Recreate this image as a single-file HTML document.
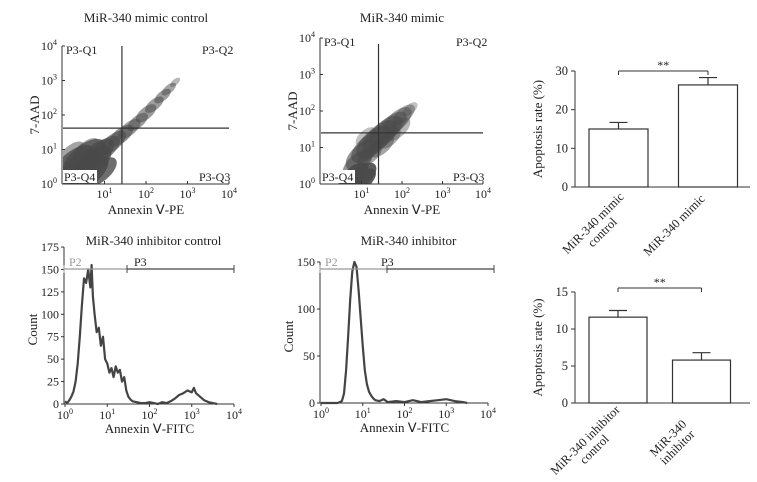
<!DOCTYPE html>
<html><head><meta charset="utf-8"><style>
html,body{margin:0;padding:0;background:#fff}
svg{display:block;font-family:"Liberation Serif",serif}
</style></head><body>
<svg id="fig" width="757" height="482" viewBox="0 0 757 482" xmlns="http://www.w3.org/2000/svg"></svg>
<script>
// ---------- data ----------
const s1CloudX=[0.3,0.6,0.9,0.25,0.5,0.8,1.0,1.2,1.4,1.6,1.8,2.0,2.2,2.4,2.55,2.7,0.4,0.7,0.2,0.55];
const s1CloudY=[0.25,0.3,0.35,0.6,0.75,0.85,1.0,1.2,1.4,1.6,1.8,2.05,2.3,2.55,2.75,2.95,0.5,0.6,0.9,1.0];
const s1CloudR=[0.4,0.4,0.32,0.4,0.42,0.35,0.3,0.26,0.24,0.22,0.2,0.2,0.18,0.16,0.14,0.1,0.4,0.38,0.25,0.25];
const s1CloudO=[0.85,0.85,0.8,0.75,0.75,0.7,0.65,0.6,0.6,0.55,0.55,0.55,0.55,0.55,0.5,0.4,0.8,0.75,0.5,0.5];
const s1Gate=[1.42,1.62];
const s2CloudX=[0.8,1.0,0.9,1.0,1.15,1.3,1.45,1.6,1.75,1.9,2.05,2.2,1.2,1.5,1.7,1.1,1.9,0.75,1.05];
const s2CloudY=[0.2,0.2,0.55,0.8,1.0,1.15,1.3,1.45,1.6,1.75,1.9,2.05,0.8,1.05,1.25,1.3,1.5,0.1,0.1];
const s2CloudR=[0.3,0.3,0.3,0.32,0.33,0.35,0.35,0.33,0.3,0.28,0.22,0.15,0.25,0.25,0.22,0.2,0.25,0.25,0.25];
const s2CloudO=[0.9,0.9,0.6,0.6,0.6,0.6,0.6,0.6,0.55,0.5,0.45,0.35,0.5,0.5,0.45,0.35,0.4,0.9,0.9];
const s2Gate=[1.42,1.40];
const h1X=[0,0.05,0.1,0.15,0.2,0.25,0.3,0.35,0.4,0.45,0.5,0.55,0.6,0.63,0.66,0.7,0.75,0.8,0.85,0.9,0.95,1.0,1.05,1.1,1.15,1.2,1.25,1.3,1.35,1.4,1.45,1.5,1.55,1.6,1.7,1.8,1.9,2.0,2.1,2.2,2.3,2.4,2.5,2.6,2.7,2.8,2.9,3.0,3.05,3.1,3.2,3.3,3.4,3.5,3.6];
const h1Y=[3,1,4,8,14,25,45,75,110,140,135,150,130,155,120,100,80,85,65,75,50,45,35,40,30,42,35,38,25,30,15,8,5,3,2,1,1,2,1,0,2,1,3,6,10,12,15,13,18,12,8,4,2,1,0];
const h1Ticks=[0,25,50,75,100,125,150,175];
const h2X=[0,0.3,0.4,0.5,0.55,0.6,0.65,0.7,0.75,0.8,0.85,0.9,0.95,1.0,1.05,1.1,1.15,1.2,1.25,1.3,1.4,1.5,1.6,1.8,2.0,2.2,2.4,2.6,2.8,3.0,3.2,3.4,3.5];
const h2Y=[0,0,0,2,10,35,70,110,140,150,145,120,90,60,35,20,12,8,5,3,2,4,1,2,1,3,1,2,3,4,2,1,0];
const h2Ticks=[0,50,100,150];
const b1Cats=[["MiR-340 mimic","control"],["MiR-340 mimic"]];
const b1Vals=[15.0,26.4];
const b1Errs=[1.7,1.9];
const b1Ticks=[0,10,20,30];
const b2Cats=[["MiR-340 inhibitor","control"],["MiR-340","inhibitor"]];
const b2Vals=[11.6,5.8];
const b2Errs=[0.9,1.0];
const b2Ticks=[0,5,10,15];

const NS="http://www.w3.org/2000/svg";
const svg=document.getElementById('fig');
function mk(tag,attrs,parent,txt){const e=document.createElementNS(NS,tag);for(const k in attrs)e.setAttribute(k,attrs[k]);if(txt!==undefined)e.textContent=txt;(parent||svg).appendChild(e);return e;}
function grp(name){const g=mk('g',{});return g;}
function line(p,x1,y1,x2,y2,c,w){return mk('line',{x1,y1,x2,y2,stroke:c||'#333','stroke-width':w||1},p);}
function txt(p,x,y,s,opt){opt=opt||{};const t=mk('text',{x,y,'font-size':opt.size||12,'text-anchor':opt.anchor||'start',fill:opt.fill||'#222'},p,s);if(opt.rot)t.setAttribute('transform',`rotate(${opt.rot} ${x} ${y})`);return t;}
function pow(p,x,y,k,anchor){const t=mk('text',{x,y,'font-size':12,'text-anchor':anchor||'middle',fill:'#222'},p);t.appendChild(document.createTextNode('10'));mk('tspan',{'font-size':8,dy:-5},t,String(k));return t;}

function scatter(name,title,x0,x4,yb,yt,cx,cy,cr,co,gate,gateTop){
  const g=grp(name);
  const sx=v=>x0+(x4-x0)*v/4, sy=v=>yb-(yb-yt)*v/4;
  const tt=txt(g,(x0+x4)/2,22,title,{size:13,anchor:'middle'});
  
  const cl=grp('cell-cloud');g.appendChild(cl);
  const cp=mk('clipPath',{id:'clip-'+name},svg);
  mk('rect',{x:x0,y:yt,width:x4-x0,height:yb-yt},cp);
  cl.setAttribute('clip-path','url(#clip-'+name+')');
  const px=(x4-x0)/4, py=(yb-yt)/4;
  const ang=-Math.atan2(py,px)*180/Math.PI;
  for(let i=0;i<cx.length;i++){
    const X=sx(cx[i]),Y=sy(cy[i]);
    const e=mk('ellipse',{cx:X,cy:Y,rx:px*cr[i]*1.5,ry:py*cr[i]*0.85,fill:'#4a4a4a','fill-opacity':co[i],transform:`rotate(${ang} ${X} ${Y})`},cl);
    
    
  }
  line(g,x0-1,yt,x0-1,yb,'#333',1);line(g,x0-1,yb,x4,yb,'#333',1);
  for(let k=0;k<=4;k++){
    pow(g,x0-6,sy(k)+4,k,'end');
    if(k>0){pow(g,sx(k),yb+14,k,'middle');line(g,sx(k),yb,sx(k),yb-3);}
    line(g,x0-1,sy(k),x0+2,sy(k));
  }
  const gv=line(g,sx(gate[0]),gateTop,sx(gate[0]),yb,'#333',1.2);
  
  const gh=line(g,x0,sy(gate[1]),x4,sy(gate[1]),'#333',1.2);
  
  txt(g,x0+3,yt+8,'P3-Q1');txt(g,x4-27,yt+8,'P3-Q2',{});
  mk('rect',{x:x0,y:yb-14,width:34,height:13,fill:'#fff'},g);
  txt(g,x0+1,yb-3,'P3-Q4');txt(g,x4-30,yb-3,'P3-Q3');
  const xl=txt(g,(x0+x4)/2,yb+30,'Annexin Ⅴ-PE',{size:13,anchor:'middle'});
  
  const yl=txt(g,x0-24,(yt+yb)/2,'7-AAD',{size:13,anchor:'middle',rot:-90});
  
}
scatter('scatter-mimic-control','MiR-340 mimic control',63,229,184,46,s1CloudX,s1CloudY,s1CloudR,s1CloudO,s1Gate,46);
scatter('scatter-mimic','MiR-340 mimic',321,483,184,38,s2CloudX,s2CloudY,s2CloudR,s2CloudO,s2Gate,44);

function hist(name,title,x0,x4,y0,pxPer,xs,ys,ticks,p3,p3lab,gEnd){
  const g=grp(name);
  const sx=v=>x0+(x4-x0)*v/4, sy=v=>y0-v*pxPer;
  const top=sy(ticks[ticks.length-1]);
  const tt=txt(g,(x0+x4)/2+4,245,title,{size:13,anchor:'middle'});
  
  line(g,x0-1,top,x0-1,y0);line(g,x0-1,y0,x4,y0);
  ticks.forEach(t=>{line(g,x0-4,sy(t),x0-1,sy(t));txt(g,x0-6,sy(t)+4,String(t),{anchor:'end'});});
  for(let k=0;k<=4;k++){line(g,sx(k),y0,sx(k),y0+3);pow(g,sx(k),y0+15,k,'middle');}
  const pts=xs.map((v,i)=>sx(v).toFixed(1)+','+sy(ys[i]).toFixed(1)).join(' ');
  const pl=mk('polyline',{points:pts,fill:'none',stroke:'#444','stroke-width':2.2,'stroke-linejoin':'round'},g);
  
  
  const gy=269;
  line(g,x0-1,gy,p3,gy,'#999',1.2);line(g,x0-1,gy-4,x0-1,gy+4,'#999',1);
  line(g,p3,gy,gEnd,gy,'#444',1.2);
  line(g,p3,gy-4,p3,gy+4,'#444',1);line(g,gEnd,gy-4,gEnd,gy+4,'#444',1);
  txt(g,x0+4,gy-3,'P2',{fill:'#999'});txt(g,p3lab,gy-3,'P3');
  const xl=txt(g,(x0+x4)/2,y0+29,'Annexin Ⅴ-FITC',{size:13,anchor:'middle'});
  
  const yl=txt(g,x0-28,(top+y0)/2+4,'Count',{size:13,anchor:'middle',rot:-90});
  
}
hist('hist-inhibitor-control','MiR-340 inhibitor control',65,234,404,0.897,h1X,h1Y,h1Ticks,127,134,234);
hist('hist-inhibitor','MiR-340 inhibitor',321,488,403,0.94,h2X,h2Y,h2Ticks,387,381,494);

function bars(name,ax,y0,ytop,ticks,cats,vals,errs,centers,bw,brY,labEnds){
  const g=grp(name);
  const max=ticks[ticks.length-1];
  const sy=v=>y0-(y0-ytop)*v/max;
  line(g,ax,ytop,ax,y0);line(g,ax,y0,750,y0);
  ticks.forEach(t=>{line(g,ax-4,sy(t),ax,sy(t));txt(g,ax-7,sy(t)+4,String(t),{anchor:'end',size:12.5});});
  vals.forEach((v,i)=>{
    const r=mk('rect',{x:centers[i]-bw/2,y:sy(v),width:bw,height:y0-sy(v),fill:'#fff',stroke:'#333','stroke-width':1.2},g);
    
    
    const et=sy(v+errs[i]);
    line(g,centers[i],sy(v),centers[i],et,'#333',1.2);
    line(g,centers[i]-9,et,centers[i]+9,et,'#333',1.2);
    const [ex,ey]=labEnds[i];
    const t=mk('text',{x:0,y:0,'font-size':12.5,'text-anchor':'middle',fill:'#222',transform:`translate(${ex} ${ey}) rotate(-45)`},g);
    
    cats[i].forEach((s,j)=>{mk('tspan',{x:0,dy:j?13:0},t,s);});
  });
  const bx1=centers[0],bx2=centers[1];
  line(g,bx1,brY,bx2,brY);line(g,bx1,brY,bx1,brY+4);line(g,bx2,brY,bx2,brY+4);
  txt(g,(bx1+bx2)/2,brY-2,'**',{anchor:'middle',size:12});
  const yl=txt(g,ax-33,(ytop+y0)/2,'Apoptosis rate (%)',{size:13,anchor:'middle',rot:-90});
  
}
bars('bar-chart-mimic',575,187,71,b1Ticks,b1Cats,b1Vals,b1Errs,[618.5,708],59,71,[[596,226],[677,228]]);
bars('bar-chart-inhibitor',575,403,292,b2Ticks,b2Cats,b2Vals,b2Errs,[618,701.5],58,288,[[588,443],[671,441]]);
</script>
</body></html>
